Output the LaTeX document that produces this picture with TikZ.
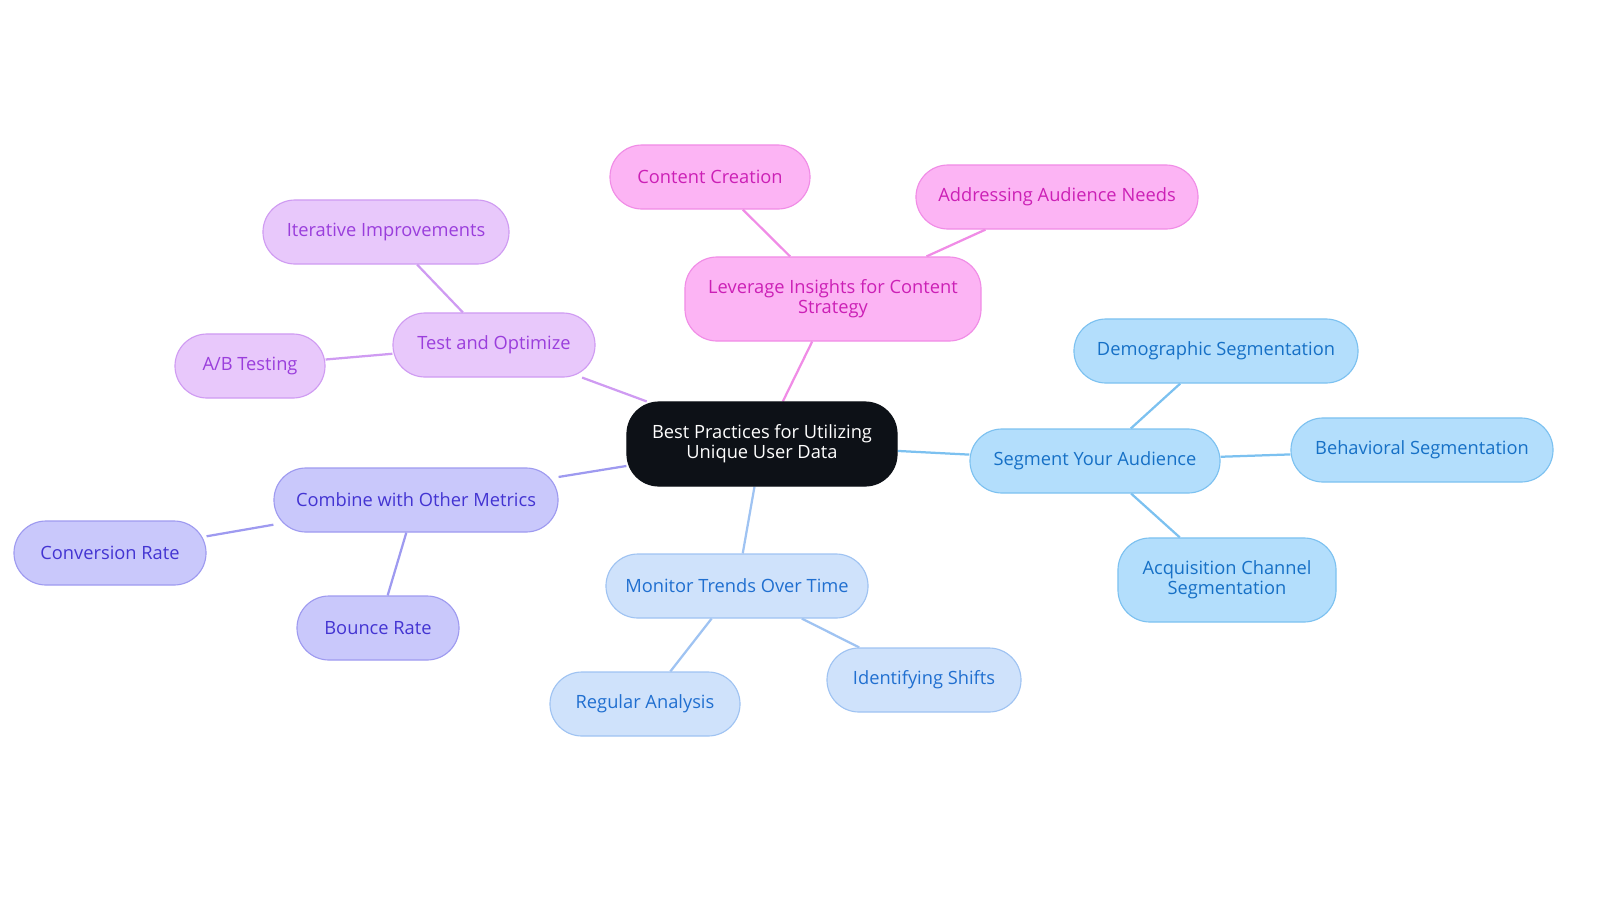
\documentclass[tikz,border=0pt]{standalone}
\usepackage{fontspec}
\setmainfont{Open Sans}
\usetikzlibrary{backgrounds}
\definecolor{rootfill}{HTML}{0D1117}
\definecolor{pinkfill}{HTML}{FCB4F4}
\definecolor{pinkline}{HTML}{F08CE6}
\definecolor{pinktext}{HTML}{CC20B6}
\definecolor{violfill}{HTML}{E8C8FB}
\definecolor{violline}{HTML}{CF9BF2}
\definecolor{violtext}{HTML}{9A3EDC}
\definecolor{indfill}{HTML}{C9C8FB}
\definecolor{indline}{HTML}{9E9AF0}
\definecolor{indtext}{HTML}{4334D2}
\definecolor{palefill}{HTML}{CFE2FB}
\definecolor{paleline}{HTML}{9FC3F2}
\definecolor{paletext}{HTML}{206FD0}
\definecolor{skyfill}{HTML}{B3DEFC}
\definecolor{skyline}{HTML}{7CC1F0}
\definecolor{skytext}{HTML}{1670C6}
\tikzset{
  box/.style={rounded corners=0.8cm, align=center, inner sep=0pt,
    font=\fontsize{13}{14}\selectfont, line width=0.8pt},
  root/.style={box, fill=rootfill, draw=rootfill, text=white},
  pink/.style={box, fill=pinkfill, draw=pinkline, text=pinktext},
  viol/.style={box, fill=violfill, draw=violline, text=violtext},
  ind/.style={box, fill=indfill, draw=indline, text=indtext},
  pale/.style={box, fill=palefill, draw=paleline, text=paletext},
  sky/.style={box, fill=skyfill, draw=skyline, text=skytext},
  link/.style={line width=1.6pt}
}
\begin{document}
\begin{tikzpicture}[x=0.025cm, y=-0.025cm]
  \useasboundingbox (0,0) rectangle (1600,903);

  %Centre
  \node [root, minimum width=6.75cm, minimum height=2.1cm] (best) at (762,444)
        {Best Practices for Utilizing\\Unique User Data};

  %Content strategy
  \node [pink, minimum width=7.4cm, minimum height=2.1cm] (leverage) at (833,299)
        {Leverage Insights for Content\\Strategy};
  \node [pink, minimum width=5cm, minimum height=1.6cm] (creation) at (710,177) {Content Creation};
  \node [pink, minimum width=7.05cm, minimum height=1.6cm] (needs) at (1057,197) {Addressing Audience Needs};

  %Testing
  \node [viol, minimum width=5.05cm, minimum height=1.6cm] (test) at (494,345) {Test and Optimize};
  \node [viol, minimum width=6.15cm, minimum height=1.6cm] (iter) at (386,232) {Iterative Improvements};
  \node [viol, minimum width=3.75cm, minimum height=1.6cm] (ab) at (250,366) {A/B Testing};

  %Metrics
  \node [ind, minimum width=7.1cm, minimum height=1.6cm] (combine) at (416,500) {Combine with Other Metrics};
  \node [ind, minimum width=4.8cm, minimum height=1.6cm] (conv) at (110,553) {Conversion Rate};
  \node [ind, minimum width=4.05cm, minimum height=1.6cm] (bounce) at (378,628) {Bounce Rate};

  %Trends
  \node [pale, minimum width=6.55cm, minimum height=1.6cm] (monitor) at (737,586) {Monitor Trends Over Time};
  \node [pale, minimum width=4.75cm, minimum height=1.6cm] (regular) at (645,704) {Regular Analysis};
  \node [pale, minimum width=4.85cm, minimum height=1.6cm] (shifts) at (924,680) {Identifying Shifts};

  %Segments
  \node [sky, minimum width=6.25cm, minimum height=1.6cm] (segment) at (1095,461) {Segment Your Audience};
  \node [sky, minimum width=7.1cm, minimum height=1.6cm] (demo) at (1216,351) {Demographic Segmentation};
  \node [sky, minimum width=6.55cm, minimum height=1.6cm] (behav) at (1422,450) {Behavioral Segmentation};
  \node [sky, minimum width=5.45cm, minimum height=2.1cm] (acq) at (1227,580)
        {Acquisition Channel\\Segmentation};

  %Links
  \begin{pgfonlayer}{background}
    \draw [link, pinkline] (best) -- (leverage);
    \draw [link, pinkline] (leverage) -- (creation);
    \draw [link, pinkline] (leverage) -- (needs);
    \draw [link, violline] (best) -- (test);
    \draw [link, violline] (test) -- (iter);
    \draw [link, violline] (test) -- (ab);
    \draw [link, indline]  (best) -- (combine);
    \draw [link, indline]  (combine) -- (conv);
    \draw [link, indline]  (combine) -- (bounce);
    \draw [link, paleline] (best) -- (monitor);
    \draw [link, paleline] (monitor) -- (regular);
    \draw [link, paleline] (monitor) -- (shifts);
    \draw [link, skyline]  (best) -- (segment);
    \draw [link, skyline]  (segment) -- (demo);
    \draw [link, skyline]  (segment) -- (behav);
    \draw [link, skyline]  (segment) -- (acq);
  \end{pgfonlayer}
\end{tikzpicture}
\end{document}
